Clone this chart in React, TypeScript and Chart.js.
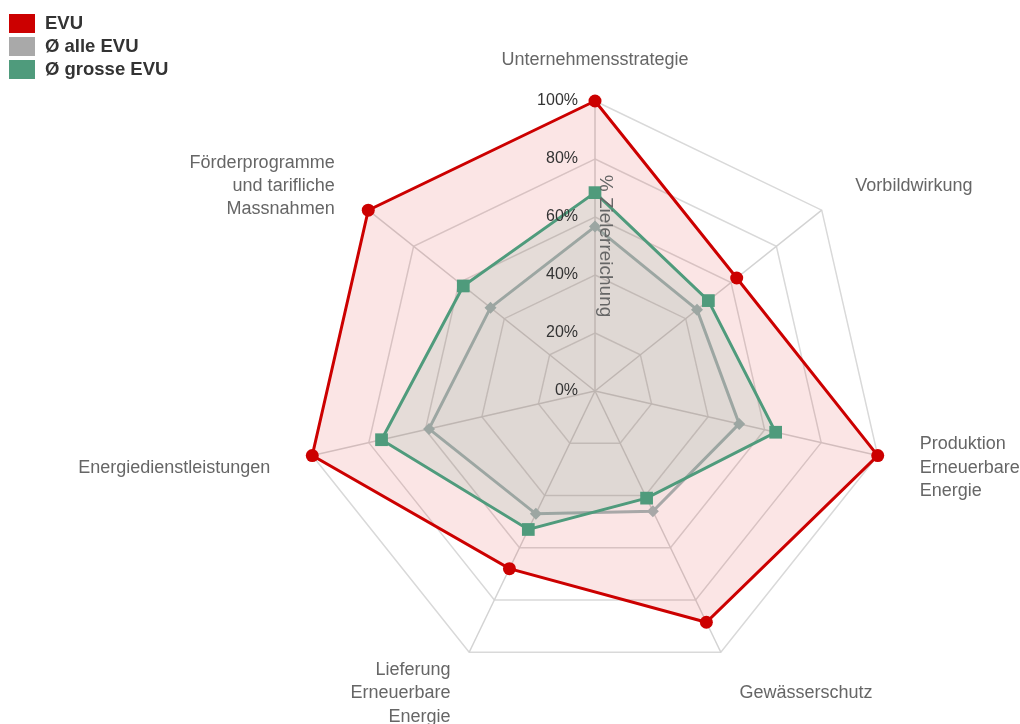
import { useEffect, useRef } from "react";
import { Chart, registerables } from "chart.js";

Chart.register(...registerables);

const categories: string[][] = [
  ["Unternehmensstrategie"],
  ["Vorbildwirkung"],
  ["Produktion", "Erneuerbare", "Energie"],
  ["Gewässerschutz"],
  ["Lieferung", "Erneuerbare", "Energie"],
  ["Energiedienstleistungen"],
  ["Förderprogramme", "und tarifliche", "Massnahmen"],
];

const seriesNames = ["EVU", "Ø alle EVU", "Ø grosse EVU"];
const evuValues = [100, 62.5, 100, 88.5, 68, 100, 100];
const alleEvuValues = [56.7, 45, 51, 46, 47, 58.7, 46.1];
const grosseEvuValues = [68.4, 50, 63.9, 41, 53, 75.5, 58.1];

const tickValues = [0, 20, 40, 60, 80, 100];
const tickLabels = ["0%", "20%", "40%", "60%", "80%", "100%"];
const axisTitle = "% Zielerreichung";

const FONT = '"Liberation Sans", Arial, Helvetica, sans-serif';

const overlayPlugin = {
  id: "overlay",
  afterDraw(chart: any) {
    const ctx = chart.ctx as CanvasRenderingContext2D;
    const s = chart.scales.r;
    ctx.save();

    // category labels
    ctx.font = `18px ${FONT}`;
    ctx.fillStyle = "#666666";
    ctx.textBaseline = "middle";
    const lh = 23.3;
    (chart.data.labels as any[]).forEach((lab, i) => {
      const p = s.getPointPosition(i, s.drawingArea + 43);
      const lines: string[] = Array.isArray(lab) ? lab : [lab];
      const dx = p.x - s.xCenter;
      ctx.textAlign = Math.abs(dx) < 1 ? "center" : dx > 0 ? "left" : "right";
      const cy = p.y + 2.5;
      lines.forEach((t, k) => {
        ctx.fillText(t, p.x, cy + (k - (lines.length - 1) / 2) * lh);
      });
    });

    // tick labels
    ctx.font = `16px ${FONT}`;
    ctx.fillStyle = "#333333";
    ctx.textAlign = "right";
    tickValues.forEach((v, k) => {
      const y = s.yCenter - s.getDistanceFromCenterForValue(v);
      ctx.fillText(tickLabels[k], s.xCenter - 17, y);
    });

    // axis title
    ctx.save();
    ctx.font = `19px ${FONT}`;
    ctx.fillStyle = "#666666";
    ctx.translate(s.xCenter + 10, s.yCenter - s.drawingArea * 0.5);
    ctx.rotate(Math.PI / 2);
    ctx.textAlign = "center";
    ctx.textBaseline = "middle";
    ctx.fillText(axisTitle, 0, 0);
    ctx.restore();

    // legend
    ctx.font = `bold 18.5px ${FONT}`;
    ctx.textAlign = "left";
    ctx.textBaseline = "middle";
    chart.data.datasets.forEach((ds: any, k: number) => {
      const y = 23.5 + k * 23;
      ctx.fillStyle = ds.legendColor;
      ctx.fillRect(9, y - 9.5, 26, 19);
      ctx.fillStyle = "#333333";
      ctx.fillText(ds.label, 45, y + 0.5);
    });

    ctx.restore();
  },
};

export default function App() {
  const ref = useRef<HTMLCanvasElement | null>(null);

  useEffect(() => {
    if (!ref.current) return;
    Chart.defaults.font.family = FONT;
    const chart = new Chart(ref.current, {
      type: "radar",
      data: {
        labels: categories as any,
        datasets: [
          {
            label: seriesNames[0],
            data: evuValues,
            order: 3,
            borderColor: "#cc0000",
            backgroundColor: "rgba(220,0,0,0.1)",
            borderWidth: 3,
            fill: true,
            pointStyle: "circle",
            pointRadius: 6.5,
            pointBackgroundColor: "#cc0000",
            pointBorderColor: "#cc0000",
            pointBorderWidth: 0,
            legendColor: "#cc0000",
          } as any,
          {
            label: seriesNames[1],
            data: alleEvuValues,
            order: 2,
            borderColor: "#a8a8a8",
            backgroundColor: "rgba(128,128,128,0.05)",
            borderWidth: 3,
            fill: true,
            pointStyle: "rectRot",
            pointRadius: 6,
            pointBackgroundColor: "#a8a8a8",
            pointBorderColor: "#a8a8a8",
            pointBorderWidth: 0,
            legendColor: "#a9a9a9",
          } as any,
          {
            label: seriesNames[2],
            data: grosseEvuValues,
            order: 1,
            borderColor: "#4f9b7c",
            backgroundColor: "rgba(79,155,124,0.13)",
            borderWidth: 3,
            fill: true,
            pointStyle: "rect",
            pointRadius: 9,
            pointBackgroundColor: "#4f9b7c",
            pointBorderColor: "#4f9b7c",
            pointBorderWidth: 0,
            legendColor: "#4f9b7c",
          } as any,
        ],
      },
      options: {
        animation: false,
        responsive: true,
        maintainAspectRatio: false,
        layout: { padding: { left: 305, right: 135, top: 101, bottom: 43 } },
        plugins: {
          legend: { display: false },
          tooltip: { enabled: false },
        },
        elements: { line: { tension: 0 } },
        scales: {
          r: {
            min: 0,
            max: 100,
            ticks: { display: false, stepSize: 20 },
            pointLabels: { display: false },
            grid: { color: "#d9d9d9", lineWidth: 1.5 },
            angleLines: { color: "#d3d3d3", lineWidth: 1.5 },
          },
        },
      },
      plugins: [overlayPlugin],
    });
    return () => chart.destroy();
  }, []);

  return (
    <div style={{ position: "fixed", left: 0, top: 0, width: 1020, height: 724 }}>
      <canvas ref={ref} />
    </div>
  );
}
